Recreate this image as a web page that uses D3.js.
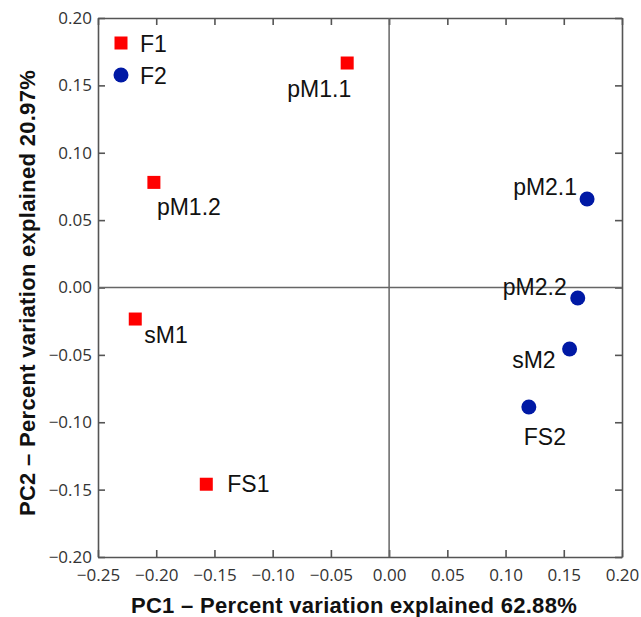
<!DOCTYPE html>
<html>
<head>
<meta charset="utf-8">
<script src="https://cdn.jsdelivr.net/npm/d3@7"></script>
<style>
  body { margin: 0; background: #fff; }
  .tick text { font-family: "Open Sans", sans-serif; font-size: 17px; fill: #333; }
  .ptlabel { font-family: "Liberation Sans", Arial, sans-serif; font-size: 23px; fill: #111; }
  .title { font-family: "Liberation Sans", Arial, sans-serif; font-size: 22px; font-weight: bold; fill: #111; letter-spacing: 0.3px; }
</style>
</head>
<body>
<div id="chart"></div>
<script>
// sample names and groups
const names = ['pM1.1', 'pM1.2', 'sM1', 'FS1', 'pM2.1', 'pM2.2', 'sM2', 'FS2'];
const groups = ['F1', 'F1', 'F1', 'F1', 'F2', 'F2', 'F2', 'F2'];
// PCA scores
const pc1 = [-0.036, -0.202, -0.218, -0.157, 0.170, 0.162, 0.155, 0.120];
const pc2 = [0.1666, 0.078, -0.0234, -0.146, 0.0657, -0.0078, -0.0456, -0.0887];
const xTicks = [-0.25, -0.20, -0.15, -0.10, -0.05, 0.00, 0.05, 0.10, 0.15, 0.20];
const yTicks = [-0.20, -0.15, -0.10, -0.05, 0.00, 0.05, 0.10, 0.15, 0.20];
const legendItems = ['F1', 'F2'];

// label placement (pixels, relative to the point)
const labelPos = {
  'pM1.1': {dx: 4, dy: 34, anchor: 'end'},
  'pM1.2': {dx: 3, dy: 33, anchor: 'start'},
  'sM1': {dx: 9, dy: 24, anchor: 'start'},
  'FS1': {dx: 21, dy: 8, anchor: 'start'},
  'pM2.1': {dx: -10, dy: -4, anchor: 'end'},
  'pM2.2': {dx: -11, dy: -3, anchor: 'end'},
  'sM2': {dx: -14, dy: 19, anchor: 'end'},
  'FS2': {dx: 16, dy: 38, anchor: 'middle'}
};

const data = names.map((n, i) => ({name: n, group: groups[i], x: pc1[i], y: pc2[i]}));
const color = d3.scaleOrdinal().domain(legendItems).range(['#ff0000', '#0019a5']);

const W = 641, H = 617;
const margin = {top: 18, right: 19, bottom: 60, left: 98};
const width = W - margin.left - margin.right;
const height = H - margin.top - margin.bottom;

const svg = d3.select('#chart').append('svg')
  .attr('width', W).attr('height', H);
const g = svg.append('g')
  .attr('transform', `translate(${margin.left},${margin.top})`);

const x = d3.scaleLinear().domain([-0.25, 0.20]).range([0, width]);
const y = d3.scaleLinear().domain([-0.20, 0.20]).range([height, 0]);
const fmt = d => d3.format('.2f')(d).replace('-', '\u2212');
const axisColor = '#555';

// axes with inward ticks
const xAxis = g.append('g').attr('transform', `translate(0,${height})`)
  .call(d3.axisBottom(x).tickValues(xTicks).tickFormat(fmt).tickSizeInner(-7).tickSizeOuter(0).tickPadding(12));
const yAxis = g.append('g')
  .call(d3.axisLeft(y).tickValues(yTicks).tickFormat(fmt).tickSizeInner(-7).tickSizeOuter(0).tickPadding(6));
const xTop = g.append('g')
  .call(d3.axisTop(x).tickValues(xTicks).tickFormat('').tickSizeInner(-7).tickSizeOuter(0));
const yRight = g.append('g').attr('transform', `translate(${width},0)`)
  .call(d3.axisRight(y).tickValues(yTicks).tickFormat('').tickSizeInner(-7).tickSizeOuter(0));

[xAxis, yAxis, xTop, yRight].forEach(a => {
  a.select('.domain').attr('stroke', axisColor).attr('stroke-width', 1.6);
  a.selectAll('.tick line').attr('stroke', axisColor).attr('stroke-width', 1.6);
});

// zero lines
g.append('line').attr('x1', x(0)).attr('x2', x(0)).attr('y1', 0).attr('y2', height)
  .attr('stroke', '#666').attr('stroke-width', 1.5);
g.append('line').attr('x1', 0).attr('x2', width).attr('y1', y(0)).attr('y2', y(0))
  .attr('stroke', '#666').attr('stroke-width', 1.5);

// points
function drawMarker(sel, group) {
  if (group === 'F1') {
    sel.append('rect').attr('x', -6.5).attr('y', -6.5).attr('width', 13).attr('height', 13)
      .attr('fill', color(group));
  } else {
    sel.append('circle').attr('r', 7.5).attr('fill', color(group));
  }
}

const pts = g.selectAll('.pt').data(data).join('g')
  .attr('class', 'pt')
  .attr('transform', d => `translate(${x(d.x)},${y(d.y)})`);
pts.each(function(d) { drawMarker(d3.select(this), d.group); });
pts.append('text').attr('class', 'ptlabel')
  .attr('x', d => labelPos[d.name].dx)
  .attr('y', d => labelPos[d.name].dy)
  .attr('text-anchor', d => labelPos[d.name].anchor)
  .text(d => d.name);

// legend
const legend = g.selectAll('.leg').data(legendItems).join('g')
  .attr('class', 'leg')
  .attr('transform', (d, i) => `translate(23,${25 + i * 32})`);
legend.each(function(d) { drawMarker(d3.select(this), d); });
legend.append('text').attr('class', 'ptlabel').attr('x', 19).attr('y', 9).text(d => d);

// axis titles
svg.append('text').attr('class', 'title')
  .attr('x', 354).attr('y', 613).attr('text-anchor', 'middle')
  .text('PC1 \u2013 Percent variation explained 62.88%');
svg.append('text').attr('class', 'title')
  .attr('transform', 'translate(35,293) rotate(-90)').attr('text-anchor', 'middle')
  .text('PC2 \u2013 Percent variation explained 20.97%');
</script>
</body>
</html>
